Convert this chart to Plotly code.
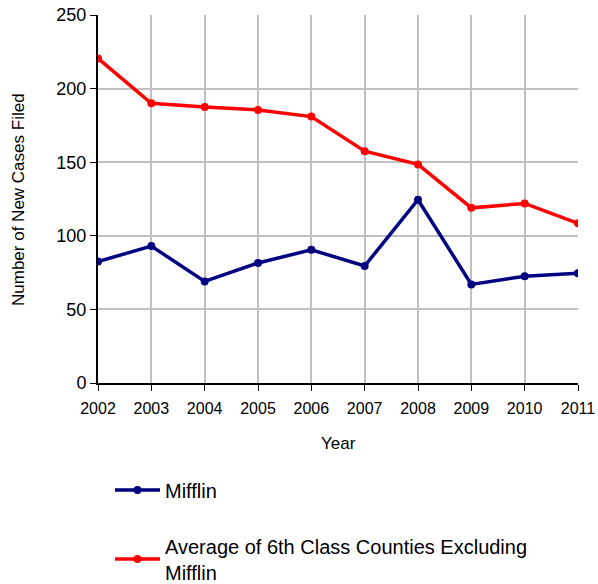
import plotly.graph_objects as go

years = [2002, 2003, 2004, 2005, 2006, 2007, 2008, 2009, 2010, 2011]
mifflin = [82.5, 93, 69, 81.5, 90.5, 79.5, 124.5, 67, 72.5, 74.5]
average = [220.5, 190, 187.5, 185.5, 181, 157.5, 148.5, 119, 122, 108.5]
tick_years = [str(y) for y in years]

FONT = "Liberation Sans, Arial, sans-serif"

fig = go.Figure()
fig.add_trace(go.Scatter(
    x=years, y=mifflin, name="Mifflin", mode="lines+markers",
    line=dict(color="#000080", width=3.5), marker=dict(size=8, color="#000080"),
    legendgroup="a",
))
fig.add_trace(go.Scatter(
    x=years, y=average, name="Average of 6th Class Counties Excluding<br>Mifflin",
    mode="lines+markers",
    line=dict(color="#ff0000", width=3.5), marker=dict(size=8, color="#ff0000"),
    legendgroup="b",
))

# Figure is slightly taller than the 584px window so the two-line legend
# fits inside the paper; the visible top 584px match the reference.
fig.update_layout(
    width=598, height=620,
    margin=dict(l=98, r=20, t=15, b=237),
    plot_bgcolor="white", paper_bgcolor="white",
    font=dict(family=FONT, color="black"),
    showlegend=True,
    legend=dict(
        x=0.025, y=-0.238, xanchor="left", yanchor="top",
        font=dict(size=20, family=FONT), tracegroupgap=27,
        traceorder="grouped", bgcolor="rgba(0,0,0,0)", itemwidth=45,
    ),
    xaxis=dict(
        range=[2002, 2011], tickvals=years, ticktext=tick_years,
        showgrid=True, gridcolor="#c0c0c0", gridwidth=2,
        showline=True, linecolor="black", linewidth=2,
        ticks="outside", ticklen=6, tickcolor="black",
        tickfont=dict(size=16), zeroline=False, automargin=False,
        ticklabelstandoff=4,
    ),
    yaxis=dict(
        range=[0, 250], tickvals=[0, 50, 100, 150, 200, 250],
        showgrid=True, gridcolor="#c0c0c0", gridwidth=2,
        showline=True, linecolor="black", linewidth=2,
        ticks="outside", ticklen=6, tickcolor="black",
        tickfont=dict(size=18), zeroline=False, automargin=False,
    ),
    annotations=[
        dict(text="Year", xref="paper", yref="paper", x=0.5, y=-0.164,
             xanchor="center", yanchor="middle", showarrow=False,
             font=dict(size=17)),
        dict(text="Number of New Cases Filed", xref="paper", yref="paper",
             x=-0.1667, y=0.5, xanchor="center", yanchor="middle",
             textangle=-90, showarrow=False, font=dict(size=17)),
    ],
)

fig.write_html(
    "out.html",
    config={"displayModeBar": False},
    post_script="document.body.style.margin='0';document.body.style.overflow='hidden';",
)
